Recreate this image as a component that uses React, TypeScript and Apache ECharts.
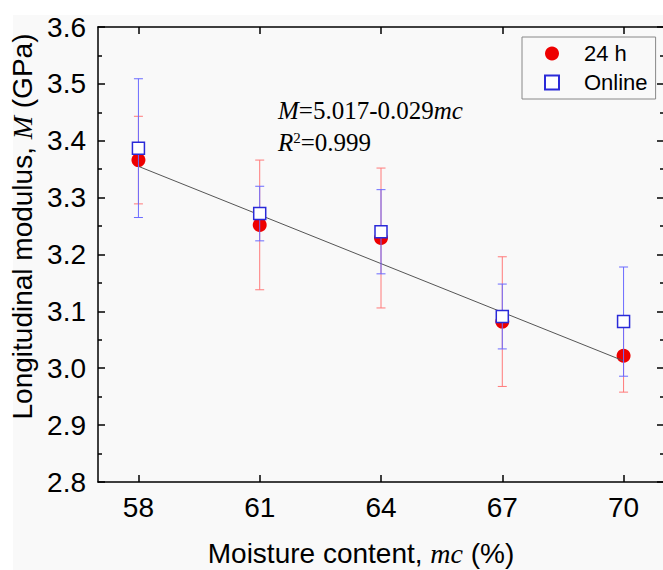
import React, { useEffect, useRef } from "react";
import * as echarts from "echarts";

const moisture = [58, 61, 64, 67, 70];
const modulus24h = [3.366, 3.252, 3.229, 3.082, 3.022];
const error24h = [0.077, 0.114, 0.123, 0.114, 0.064];
const modulusOnline = [3.387, 3.272, 3.24, 3.091, 3.082];
const errorOnline = [0.122, 0.048, 0.074, 0.057, 0.096];
const fitX = [58, 70];
const fitY = [3.355, 3.013];
const xTickValues = [58, 61, 64, 67, 70];
const seriesNames = ["24 h", "Online"];
const equationText = "{i|M}=5.017-0.029{i|mc}";
const r2Text = "{i|R}{s|2}=0.999";

const SANS = "'Liberation Sans', Arial, sans-serif";
const SERIF = "'Liberation Serif', 'Times New Roman', serif";

function errorBar(color: string) {
  return (params: any, api: any) => {
    const x = api.value(0);
    const y = api.value(1);
    const e = api.value(2);
    const top = api.coord([x, y + e]);
    const bot = api.coord([x, y - e]);
    const hw = 4.5;
    const style = { stroke: color, lineWidth: 1 };
    return {
      type: "group",
      children: [
        { type: "line", shape: { x1: top[0], y1: top[1], x2: bot[0], y2: bot[1] }, style },
        { type: "line", shape: { x1: top[0] - hw, y1: top[1], x2: top[0] + hw, y2: top[1] }, style },
        { type: "line", shape: { x1: bot[0] - hw, y1: bot[1], x2: bot[0] + hw, y2: bot[1] }, style },
      ],
    };
  };
}

export default function App() {
  const ref = useRef<HTMLDivElement>(null);
  useEffect(() => {
    if (!ref.current) return;
    const chart = echarts.init(ref.current, null, { renderer: "svg" });
    const axisLine = { show: true, onZero: false, lineStyle: { color: "#000", width: 1.5 } };
    const xBase = {
      type: "value",
      min: 57,
      max: 71,
      splitLine: { show: false },
      axisLine,
    };
    const yBase = {
      type: "value",
      min: 2.8,
      max: 3.6,
      interval: 0.1,
      splitLine: { show: false },
      axisLine,
      axisTick: { show: true, inside: true, length: 7, lineStyle: { color: "#000", width: 1.5 } },
      minorTick: { show: true, splitNumber: 2, length: 4, lineStyle: { color: "#000", width: 1.5 } },
    };
    chart.setOption({
      animation: false,
      backgroundColor: "transparent",
      grid: { left: 98, top: 27, width: 566, height: 455, containLabel: false, outerBoundsMode: "none" },
      xAxis: [
        {
          ...xBase,
          position: "bottom",
          name: "Moisture content, {i|mc} (%)",
          nameLocation: "middle",
          nameGap: 57,
          nameTextStyle: {
            fontFamily: SANS,
            fontSize: 28,
            color: "#000",
            padding: [0, 40, 0, 0],
            rich: { i: { fontFamily: SERIF, fontStyle: "italic", fontSize: 28, color: "#000" } },
          },
          axisTick: {
            show: true,
            inside: true,
            length: 7,
            customValues: xTickValues,
            lineStyle: { color: "#000", width: 1.5 },
          },
          axisLabel: {
            show: true,
            customValues: xTickValues,
            margin: 11,
            fontFamily: SANS,
            fontSize: 28,
            color: "#000",
          },
        },
        {
          ...xBase,
          position: "top",
          axisTick: {
            show: true,
            inside: true,
            length: 7,
            customValues: xTickValues,
            lineStyle: { color: "#000", width: 1.5 },
          },
          axisLabel: { show: false },
        },
      ],
      yAxis: [
        {
          ...yBase,
          position: "left",
          name: "Longitudinal modulus, {i|M} (GPa)",
          nameLocation: "middle",
          nameGap: 56,
          nameTextStyle: {
            fontFamily: SANS,
            fontSize: 28,
            color: "#000",
            padding: [0, 0, 0, 56],
            rich: { i: { fontFamily: SERIF, fontStyle: "italic", fontSize: 28, color: "#000" } },
          },
          axisLabel: {
            show: true,
            margin: 12,
            fontFamily: SANS,
            fontSize: 28,
            color: "#000",
            formatter: (v: number) => v.toFixed(1),
          },
        },
        {
          ...yBase,
          position: "right",
          axisLabel: { show: false },
        },
      ],
      legend: {
        show: true,
        orient: "vertical",
        left: 522,
        top: 37,
        width: 133,
        padding: [4, 8, 4, 22],
        itemGap: 4,
        itemWidth: 14,
        itemHeight: 14,
        borderColor: "#888",
        borderWidth: 1,
        backgroundColor: "transparent",
        data: seriesNames,
        textStyle: {
          fontFamily: SANS,
          fontSize: 22,
          color: "#000",
          lineHeight: 25,
          padding: [0, 0, 0, 20],
        },
      },
      graphic: [
        {
          type: "text",
          left: 278,
          top: 98,
          style: {
            text: equationText,
            fontFamily: SERIF,
            fontSize: 25,
            fill: "#000",
            rich: { i: { fontFamily: SERIF, fontStyle: "italic", fontSize: 25, fill: "#000" } },
          },
        },
        {
          type: "text",
          left: 278,
          top: 130,
          style: {
            text: r2Text,
            fontFamily: SERIF,
            fontSize: 25,
            fill: "#000",
            rich: {
              i: { fontFamily: SERIF, fontStyle: "italic", fontSize: 25, fill: "#000" },
              s: { fontFamily: SERIF, fontSize: 15, fill: "#000", verticalAlign: "top", padding: [0, 0, 10, 0] },
            },
          },
        },
      ],
      series: [
        {
          type: "custom",
          name: "err24",
          xAxisIndex: 0,
          yAxisIndex: 0,
          renderItem: errorBar("#ff7a7a"),
          encode: { x: 0, y: 1 },
          data: moisture.map((m, i) => [m, modulus24h[i], error24h[i]]),
          z: 2,
          silent: true,
        },
        {
          type: "scatter",
          name: seriesNames[0],
          symbol: "circle",
          symbolSize: 14,
          itemStyle: { color: "#ee0000", opacity: 1 },
          data: moisture.map((m, i) => [m, modulus24h[i]]),
          z: 3,
        },
        {
          type: "line",
          name: "fit",
          showSymbol: false,
          symbol: "none",
          lineStyle: { color: "#555", width: 1 },
          data: fitX.map((x, i) => [x, fitY[i]]),
          z: 4,
          silent: true,
        },
        {
          type: "custom",
          name: "errOnline",
          renderItem: errorBar("#6b6bff"),
          encode: { x: 0, y: 1 },
          data: moisture.map((m, i) => [m, modulusOnline[i], errorOnline[i]]),
          z: 5,
          silent: true,
        },
        {
          type: "scatter",
          name: seriesNames[1],
          symbol: "rect",
          symbolSize: 12,
          itemStyle: { color: "#ffffff", borderColor: "#2a2ad8", borderWidth: 1.5, opacity: 1 },
          data: moisture.map((m, i) => [m, modulusOnline[i]]),
          z: 6,
        },
      ],
    });
    return () => chart.dispose();
  }, []);

  return (
    <div style={{ position: "absolute", left: 0, top: 0, width: 663, height: 570, background: "#ffffff", overflow: "hidden" }}>
      <div style={{ position: "absolute", left: 13, top: 15, width: 650, height: 555, background: "#f9f9f9" }} />
      <div ref={ref} style={{ position: "absolute", left: 0, top: 0, width: 663, height: 570 }} />
    </div>
  );
}
